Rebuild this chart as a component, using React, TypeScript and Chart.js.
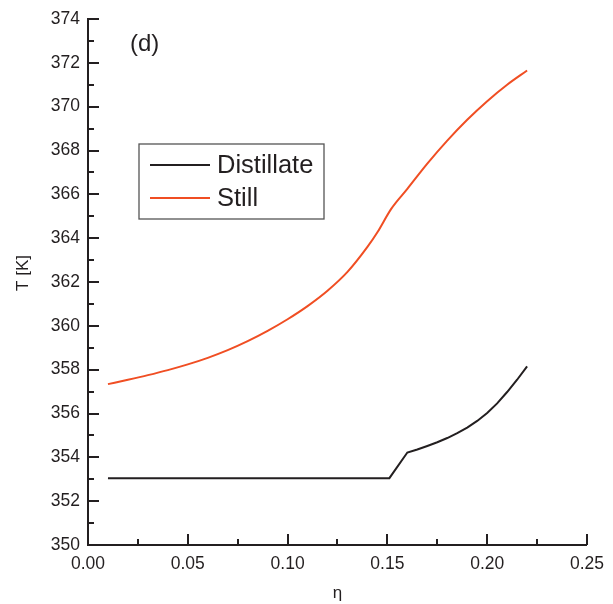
import React, { useEffect, useRef } from "react";
import { Chart, registerables } from "chart.js";

Chart.register(...registerables);

const etaDistillate = [0.01, 0.151, 0.16, 0.165, 0.17, 0.175, 0.18, 0.185, 0.19, 0.195, 0.2, 0.205, 0.21, 0.215, 0.22];
const tDistillate = [353.05, 353.05, 354.22, 354.36, 354.52, 354.69, 354.88, 355.1, 355.36, 355.66, 356.02, 356.46, 356.98, 357.54, 358.15];

const etaStill = [0.01, 0.02, 0.03, 0.04, 0.05, 0.06, 0.07, 0.08, 0.09, 0.1, 0.11, 0.12, 0.13, 0.14, 0.145, 0.152, 0.16, 0.17, 0.18, 0.19, 0.2, 0.21, 0.22];
const tStill = [357.34, 357.54, 357.75, 357.98, 358.24, 358.54, 358.89, 359.3, 359.77, 360.3, 360.9, 361.6, 362.46, 363.6, 364.27, 365.35, 366.25, 367.4, 368.45, 369.4, 370.25, 371.0, 371.65];

const seriesNames = ["Distillate", "Still"];
const seriesColors = ["#231F20", "#F04E23"];
const panelLabel = "(d)";
const xTitle = "η";
const yTitle = "T [K]";
const xMin = 0, xMax = 0.25, xStep = 0.05, xMinorStep = 0.025;
const yMin = 350, yMax = 374, yStep = 2, yMinorStep = 1;

const FONT = "'Liberation Sans', Arial, Helvetica, sans-serif";
const INK = "#231F20";

const toPoints = (xs: number[], ys: number[]) => xs.map((x, i) => ({ x, y: ys[i] }));

const innerTicks = {
  id: "innerTicks",
  afterDraw(chart: any) {
    const { ctx, chartArea } = chart;
    const xs = chart.scales.x;
    const ys = chart.scales.y;
    ctx.save();
    ctx.strokeStyle = INK;
    ctx.lineWidth = 2;
    ctx.beginPath();
    for (let v = yMin; v <= yMax + 1e-9; v += yMinorStep) {
      const major = Math.abs(((v - yMin) / yStep) - Math.round((v - yMin) / yStep)) < 1e-6;
      const py = Math.round(ys.getPixelForValue(v));
      ctx.moveTo(chartArea.left, py);
      ctx.lineTo(chartArea.left + (major ? 11 : 6), py);
    }
    const n = Math.round((xMax - xMin) / xMinorStep);
    for (let i = 0; i <= n; i++) {
      const v = xMin + i * xMinorStep;
      const major = i % Math.round(xStep / xMinorStep) === 0;
      const px = Math.round(xs.getPixelForValue(v));
      ctx.moveTo(px, chartArea.bottom);
      ctx.lineTo(px, chartArea.bottom - (major ? 11 : 6));
    }
    ctx.stroke();

    // y axis title
    ctx.fillStyle = INK;
    ctx.save();
    ctx.translate(23, (chartArea.top + chartArea.bottom) / 2 - 9);
    ctx.rotate(-Math.PI / 2);
    ctx.font = `17px ${FONT}`;
    ctx.textAlign = "center";
    ctx.textBaseline = "middle";
    ctx.fillText(yTitle, 0, 0);
    ctx.restore();

    // panel label
    ctx.font = `24px ${FONT}`;
    ctx.textBaseline = "middle";
    ctx.textAlign = "left";
    ctx.fillText(panelLabel, chartArea.left + 42, chartArea.top + 25);

    // legend box
    const bx = chartArea.left + 51;
    const by = chartArea.top + 125;
    ctx.strokeStyle = "#555";
    ctx.lineWidth = 1.3;
    ctx.strokeRect(bx, by, 185, 75);
    ctx.font = `25.5px ${FONT}`;
    chart.data.datasets.forEach((ds: any, i: number) => {
      const ly = by + 21 + i * 33;
      ctx.strokeStyle = ds.borderColor;
      ctx.lineWidth = 2;
      ctx.beginPath();
      ctx.moveTo(bx + 11, ly);
      ctx.lineTo(bx + 71, ly);
      ctx.stroke();
      ctx.fillStyle = INK;
      ctx.fillText(ds.label, bx + 78, ly + 1);
    });
    ctx.restore();
  },
};

export default function App() {
  const ref = useRef<HTMLCanvasElement>(null);
  useEffect(() => {
    if (!ref.current) return;
    const chart = new Chart(ref.current, {
      type: "line",
      data: {
        datasets: [
          {
            label: seriesNames[0],
            data: toPoints(etaDistillate, tDistillate),
            borderColor: seriesColors[0],
            backgroundColor: seriesColors[0],
            borderWidth: 2,
            pointRadius: 0,
            tension: 0,
          },
          {
            label: seriesNames[1],
            data: toPoints(etaStill, tStill),
            borderColor: seriesColors[1],
            backgroundColor: seriesColors[1],
            borderWidth: 2,
            pointRadius: 0,
            cubicInterpolationMode: "monotone",
          },
        ],
      },
      options: {
        animation: false,
        responsive: false,
        maintainAspectRatio: false,
        layout: { padding: { left: 0, right: 24, top: 19, bottom: 0 } },
        plugins: { legend: { display: false }, tooltip: { enabled: false } },
        scales: {
          x: {
            type: "linear",
            min: xMin,
            max: xMax,
            grid: { display: false, drawTicks: false },
            border: { display: true, color: INK, width: 2 },
            ticks: {
              stepSize: xStep,
              padding: 9,
              color: INK,
              font: { family: FONT, size: 17.5 },
              callback: (v: any) => Number(v).toFixed(2),
              maxRotation: 0,
            },
            title: { display: true, text: xTitle, color: INK, font: { family: FONT, size: 17 }, padding: { top: 2, bottom: 0 } },
            afterFit: (s: any) => { s.height = 59; },
          },
          y: {
            type: "linear",
            min: yMin,
            max: yMax,
            grid: { display: false, drawTicks: false },
            border: { display: true, color: INK, width: 2 },
            ticks: {
              stepSize: yStep,
              padding: 8,
              color: INK,
              font: { family: FONT, size: 17.5 },
            },
            title: { display: false },
            afterFit: (s: any) => { s.width = 88; },
          },
        },
      },
      plugins: [innerTicks],
    });
    return () => chart.destroy();
  }, []);
  return (
    <div style={{ position: "absolute", left: 0, top: 0, width: 613, height: 604, background: "#fff" }}>
      <canvas ref={ref} width={613} height={604} style={{ display: "block", width: 613, height: 604 }} />
    </div>
  );
}
